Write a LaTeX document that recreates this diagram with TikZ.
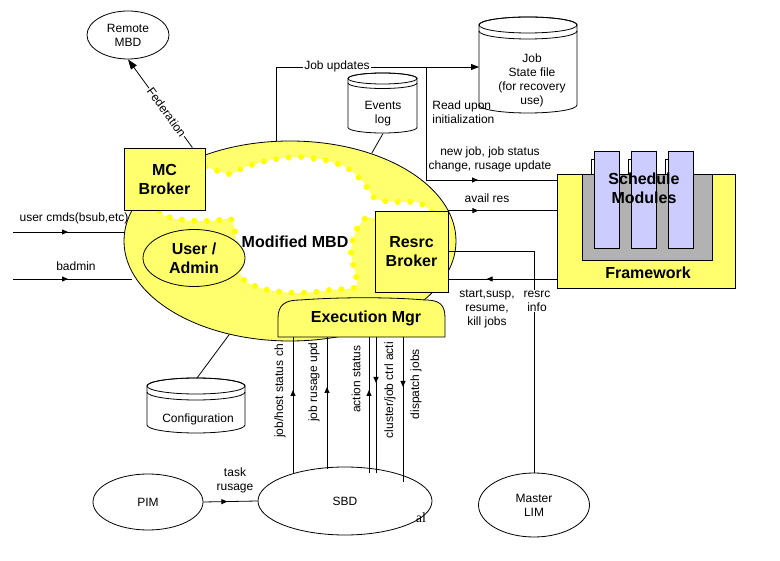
\documentclass[tikz,border=0pt]{standalone}
\usepackage{fontspec}
\setmainfont{Liberation Sans}
\newfontfamily\alserif{Liberation Serif}
\usetikzlibrary{arrows.meta,decorations.markings,shapes.geometric,calc}
\definecolor{fillyel}{RGB}{255,255,110}
\definecolor{dotyel}{RGB}{255,255,0}
\definecolor{fwgray}{RGB}{178,178,178}
\definecolor{modblue}{RGB}{204,204,255}
\newcommand{\drawdb}[6]{%
  \pgfmathsetmacro\dbrx{(#3-#1)/2}%
  \pgfmathsetmacro\dbcx{(#3+#1)/2}%
  \filldraw[fill=white] (#1,#2) -- (#1,#4) arc[start angle=180,end angle=0,x radius=\dbrx,y radius=#5] -- (#3,#2) arc[start angle=0,end angle=-180,x radius=\dbrx,y radius=#5] -- cycle;
  \draw (\dbcx,#2) ellipse[x radius=\dbrx, y radius=#5];
  \draw (#1,#2+#6) arc[start angle=180,end angle=0,x radius=\dbrx,y radius=#5];
}
\begin{document}
\begin{tikzpicture}[x=1pt,y=-1pt,line width=0.8pt,
  font=\fontsize{12}{14}\selectfont,
  lbl/.style={inner sep=1pt, align=center},
  bld/.style={font=\fontsize{16}{19}\selectfont\bfseries, align=center, inner sep=1pt},
  ybox/.style={draw, fill=fillyel},
  wel/.style={draw, fill=white, ellipse, inner sep=0pt, align=center},
  midarr/.style={postaction={decorate, decoration={markings, mark=at position #1 with {\arrow{Triangle[length=6pt,width=5pt]}}}}},
  ]
\useasboundingbox (0,0) rectangle (780,561);
% Framework
\foreach \xl in {591,628,665} \draw[fill=white] (\xl,159) rectangle ++(25,90);
\node[ybox, minimum width=178pt, minimum height=114pt, inner sep=0pt] (fw) at (646,231) {};
\draw[fill=fwgray] (582,174) rectangle (712,260);
\foreach \xl in {594,631,668} \draw[fill=modblue] (\xl,151) rectangle ++(25,97);
\node[bld] (sched) at (644,188) {Schedule\\Modules};
\node[bld] (fwt) at (648,273) {Framework};
% cylinders
\drawdb{348}{78.5}{417}{127.5}{5.5}{4.5}
\node[lbl] (evl) at (383,114) {Events\\log};
\drawdb{479}{25}{577}{105}{8}{6}
\node[lbl] (jsf) at (532,80) {Job\\State file\\(for recovery\\use)};
\drawdb{147}{386}{245}{425}{8}{6}
\node[lbl] (cfg) at (198,419) {Configuration};
% user cmds line (under ellipse)
\coordinate (ucs) at (13,232);
\coordinate (uce) at (126,232);
\draw[midarr=55pt] (ucs) -- (uce);
% big ellipse
\node[draw, fill=fillyel, ellipse, minimum width=332pt, minimum height=200pt, inner sep=0pt] (mbd) at (290,241) {};
\path[preaction={fill=white}, draw=dotyel, line width=6pt, line cap=round, dash pattern=on 0pt off 12.5pt]
  plot[smooth cycle] coordinates {(190,166) (205,167) (218,171) (231,174) (243,168) (258,163) (277,159) (300,157) (325,160) (347,168) (363,182) (376,199) (398,202) (420,203) (432,218) (385,222) (368,217) (358,227) (353,239) (351,252) (353,264) (356,276) (356,287) (344,289) (330,290) (315,292) (297,293) (282,292) (268,290) (255,286) (244,280) (239,268) (237,250) (235,232) (231,219) (220,220) (208,221) (196,221) (184,220) (172,218) (160,212) (160,190)};
\node[bld] (mtxt) at (295,242) {Modified MBD};
\node[ellipse, ybox, bld, minimum width=102pt, minimum height=57pt, inner sep=0pt] (user) at (194,258) {User /\\Admin};
\node[ybox, bld, minimum width=81pt, minimum height=62pt] (mc) at (164.5,179) {MC\\Broker};
\node[ybox, bld, minimum width=73pt, minimum height=81pt] (rb) at (411.5,251.5) {Resrc\\Broker};
\draw[ybox] (278,337) -- (278,318) .. controls (278,305) and (285,300) .. (300,300) .. controls (340,297) and (390,297) .. (425,300) .. controls (440,300) and (445,305) .. (445,318) -- (445,337) -- cycle;
\node[bld] (exec) at (366,318) {Execution Mgr};
% ellipses
\node[wel, minimum width=82pt, minimum height=48pt] (remote) at (128,35) {Remote\\MBD};
\node[wel, minimum width=111pt, minimum height=64pt] (lim) at (534,505) {Master\\LIM};
\node[wel, minimum width=110pt, minimum height=56pt] (pim) at (148,502) {PIM};
\node[wel, minimum width=174pt, minimum height=68pt] (sbd) at (345,501) {SBD};
\node[font=\alserif\fontsize{14}{16}\selectfont, inner sep=0pt] (al) at (421,518) {al};
% federation
\draw[-{Triangle[length=10pt,width=7pt]}] ([xshift=-13pt]mc.north east) -- node[sloped, pos=0.4, fill=white, inner sep=1pt] {Federation} (remote.south);
% job updates
\coordinate (jsfin) at (479,67);
\draw[-{Triangle[length=8pt,width=6pt]}] ([xshift=-14pt]mbd.north) |- (jsfin);
\node[fill=white, inner sep=1pt] (ju) at (337,66) {Job updates};
\coordinate (rd) at (426,67);
\coordinate (njs) at (426,180);
\draw (rd) -- (njs);
\draw[midarr=52pt] (njs) -- (njs -| fw.west);
\node[lbl, align=left, anchor=west] (rdl) at (431,112) {Read upon\\initialization};
\node[lbl] (njl) at (490,159) {new job, job status\\change, rusage update};
\draw[midarr=30pt] (rb.north east) -- (rb.north east -| fw.west);
\node[lbl] (avl) at (487,198) {avail res};
\coordinate (ssr) at (448,279);
\draw[midarr=70pt] (ssr -| fw.west) -- (ssr);
\node[lbl] (ssl) at (487,309) {start,susp,\\resume,\\kill jobs};
\draw (rb.east) -| (lim.north);
\node[fill=white, lbl] (rsl) at (537,301) {resrc\\info};
% db links
\coordinate (cfgtop) at (197,378);
\draw (cfgtop) -- (mbd.237);
\coordinate (evbot) at (383,133.5);
\draw (evbot) -- (mbd.47);
% left inputs
\node[lbl] (ucl) at (74,218) {user cmds(bsub,etc)};
\coordinate (bas) at (13,279);
\draw[midarr=55pt] (bas) -- ($(bas -| mbd.west)+(8,0)$);
\node[lbl] (bal) at (76,266) {badmin};
% exec <-> sbd
\coordinate (e1) at (293,337); \coordinate (s1) at (293,474);
\draw[midarr=84pt] (s1) -- (e1);
\coordinate (e2) at (327,337); \coordinate (s2) at (327,469);
\draw[midarr=82pt] (s2) -- (e2);
\coordinate (e3) at (369,337); \coordinate (s3) at (369,473);
\draw[midarr=83pt] (s3) -- (e3);
\coordinate (e4) at (376,337); \coordinate (s4) at (376,473);
\draw[midarr=46pt] (e4) -- (s4);
\coordinate (e5) at (403,337); \coordinate (s5) at (403,482);
\draw[midarr=50pt] (e5) -- (s5);
\node[lbl, rotate=90] (l1) at (280,391) {job/host status ch};
\node[lbl, rotate=90] (l2) at (314,382) {job rusage upd};
\node[lbl, rotate=90] (l3) at (356,379) {action status};
\node[lbl, rotate=90] (l4) at (390,390) {cluster/job ctrl acti};
\node[lbl, rotate=90] (l5) at (416,384) {dispatch jobs};
% pim -> sbd
\draw[midarr=24pt] (pim.east) -- (sbd.west);
\node[lbl] (trl) at (235,480) {task\\rusage};
\end{tikzpicture}
\end{document}
